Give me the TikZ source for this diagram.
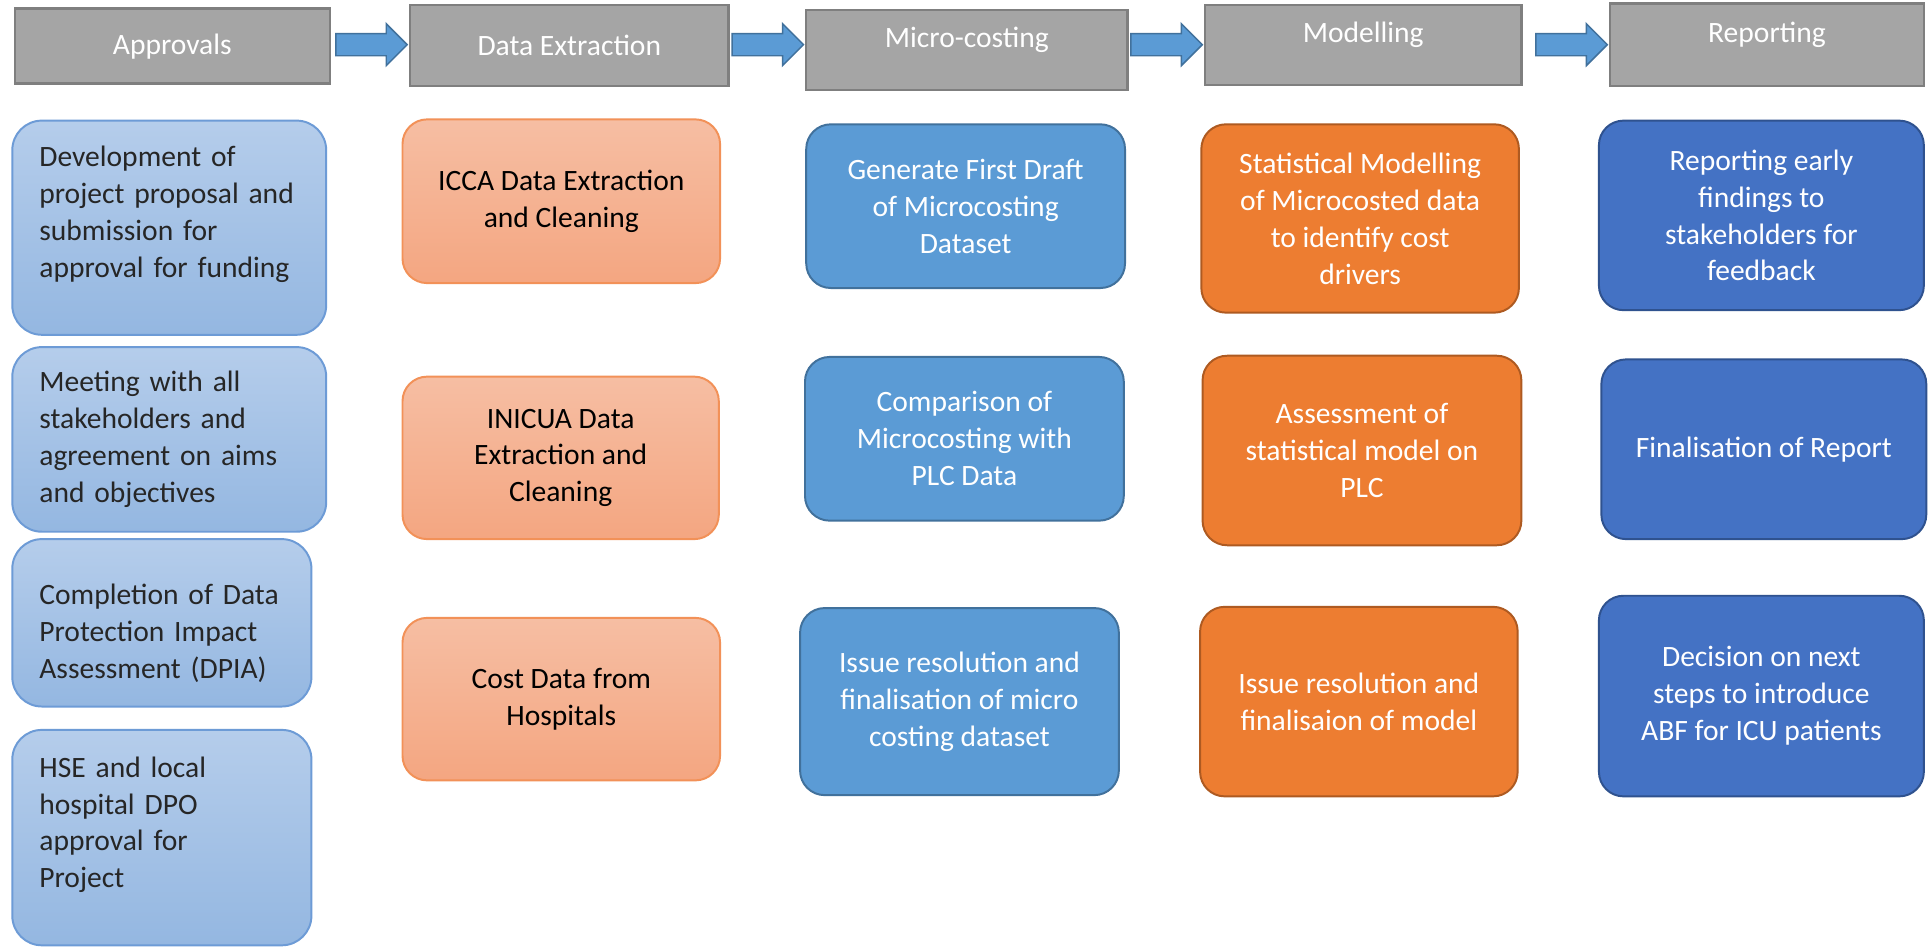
\documentclass[tikz,border=0pt]{standalone}
\usepackage{fontspec}
\setmainfont{Carlito}
\usetikzlibrary{calc}
\definecolor{hdgray}{HTML}{A5A5A5}
\definecolor{hdline}{HTML}{7F7F7F}
\definecolor{aptop}{HTML}{B5CDEB}
\definecolor{apbot}{HTML}{94B7E1}
\definecolor{apline}{HTML}{6D9BD6}
\definecolor{extop}{HTML}{F6BEA3}
\definecolor{exbot}{HTML}{F4A681}
\definecolor{exline}{HTML}{F29158}
\definecolor{mcfill}{HTML}{5B9BD5}
\definecolor{mcline}{HTML}{41719C}
\definecolor{mdfill}{HTML}{ED7D31}
\definecolor{mdline}{HTML}{AE5A21}
\definecolor{rpfill}{HTML}{4472C4}
\definecolor{rpline}{HTML}{2F528F}
\tikzset{fcp/.style={
  x=0.5pt,
  y=-0.5pt,
  font=\fontsize{12}{15}\selectfont
}}
\tikzset{hdn/.style={
  draw=hdline,
  line width=1pt,
  fill=hdgray,
  text=white,
  shape=rectangle,
  inner sep=0pt,
}}
\tikzset{hdup/.style={text depth=10pt}}
\tikzset{bxn/.style={
  shape=rectangle,
  rounded corners=10pt,
  line width=0.8pt,
  inner sep=0pt,
  align=center,
}}
\tikzset{apn/.style={bxn,draw=apline,top color=aptop,bottom color=apbot,
  text=black!85,inner xsep=11pt,align=left,rounded corners=12pt}}
\tikzset{exn/.style={bxn,draw=exline,top color=extop,bottom color=exbot,text=black}}
\tikzset{mcn/.style={bxn,draw=mcline,fill=mcfill,text=white}}
\tikzset{mdn/.style={bxn,draw=mdline,fill=mdfill,text=white}}
\tikzset{rpn/.style={bxn,draw=rpline,fill=rpfill,text=white}}
\tikzset{flw/.style={draw=mcline,fill=mcfill,line width=0.6pt,line join=miter}}

\begin{document}
\begin{tikzpicture}[fcp]
    \useasboundingbox[fill=white] (0,0) rectangle (1568,770);

    % Stage headers
    \node[hdn,minimum width=128pt,minimum height=30.5pt] (h1) at (140,37.5) {Approvals};
    \node[hdn,minimum width=129.5pt,minimum height=33pt] (h2) at (462.5,37) {Data Extraction};
    \node[hdn,hdup,minimum width=130.5pt,minimum height=32.5pt] (h3) at (785.5,40.5) {Micro-costing};
    \node[hdn,hdup,minimum width=128.5pt,minimum height=32.5pt] (h4) at (1107.5,36.5) {Modelling};
    \node[hdn,hdup,minimum width=127.5pt,minimum height=33.5pt] (h5) at (1435.5,36.5) {Reporting};

    % Block arrows between stages
    \foreach \a/\b in {h1/h2,h2/h3,h3/h4,h4/h5}{
      \coordinate (tip) at ($(\b.west |- h1.east)+(-0.6pt,0.6pt)$);
      \draw[flw] ($(tip)+(-29pt,-4.5pt)$) -- ($(tip)+(-8.5pt,-4.5pt)$)
        -- ($(tip)+(-8.5pt,-8.5pt)$) -- (tip) -- ($(tip)+(-8.5pt,8.5pt)$)
        -- ($(tip)+(-8.5pt,4.5pt)$) -- ($(tip)+(-29pt,4.5pt)$) -- cycle;
    }

    % Approvals
    \node[apn,text width=105.5pt,minimum height=87pt,text depth=58pt] (a1) at (137.5,185)
      {Development of\\project proposal and\\submission for\\approval for funding};
    \node[apn,text width=105.5pt,minimum height=75pt] (a2) at (137.5,357)
      {Meeting with all\\stakeholders and\\agreement on aims\\and objectives};
    \node[apn,text width=99.5pt,minimum height=68pt,text height=16.5pt] (a3) at (131.5,506)
      {Completion of Data\\Protection Impact\\Assessment (DPIA)};
    \node[apn,text width=99.5pt,minimum height=87.5pt,text depth=57.5pt] (a4) at (131.5,680.5)
      {HSE and local\\hospital DPO\\approval for\\Project};

    % Data extraction
    \node[exn,minimum width=129pt,minimum height=66.5pt] (b1) at (456,163.5)
      {ICCA Data Extraction\\and Cleaning};
    \node[exn,minimum width=128.5pt,minimum height=66pt] (b2) at (455.5,372)
      {INICUA Data\\Extraction and\\Cleaning};
    \node[exn,minimum width=129pt,minimum height=66pt] (b3) at (456,568)
      {Cost Data from\\Hospitals};

    % Micro-costing
    \node[mcn,minimum width=129.5pt,minimum height=66.5pt] (c1) at (784.5,167.5)
      {Generate First Draft\\of Microcosting\\Dataset};
    \node[mcn,minimum width=129.5pt,minimum height=66.5pt] (c2) at (783.5,356.5)
      {Comparison of\\Microcosting with\\PLC Data};
    \node[mcn,minimum width=129.5pt,minimum height=76pt] (c3) at (779.5,570)
      {Issue resolution and\\finalisation of micro\\costing dataset};

    % Modelling
    \node[mdn,minimum width=129pt,minimum height=76.5pt] (d1) at (1105,177.5)
      {Statistical Modelling\\of Microcosted data\\to identify cost\\drivers};
    \node[mdn,minimum width=129.5pt,minimum height=77pt] (d2) at (1106.5,366)
      {Assessment of\\statistical model on\\PLC};
    \node[mdn,minimum width=129pt,minimum height=77pt] (d3) at (1104,570)
      {Issue resolution and\\finalisaion of model};

    % Reporting
    \node[rpn,minimum width=132pt,minimum height=77pt] (e1) at (1431,175)
      {Reporting early\\findings to\\stakeholders for\\feedback};
    \node[rpn,minimum width=132pt,minimum height=73pt] (e2) at (1433,365)
      {Finalisation of Report};
    \node[rpn,minimum width=132pt,minimum height=81.5pt] (e3) at (1431,565.5)
      {Decision on next\\steps to introduce\\ABF for ICU patients};

  \end{tikzpicture}
\end{document}
